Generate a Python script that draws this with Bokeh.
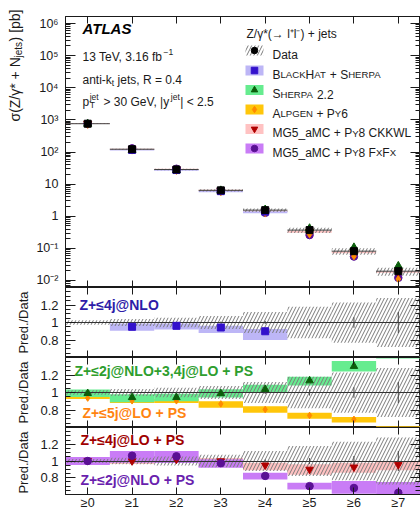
import math
import numpy as np
from bokeh.plotting import figure
from bokeh.layouts import column, row
from bokeh.models import (FixedTicker, LogAxis, LinearAxis, Label, Range1d,
                          CustomJSTickFormatter, Grid)
from bokeh.embed import file_html
from bokeh.resources import INLINE

# ---------------- data ----------------
bins = ["≥0", "≥1", "≥2", "≥3", "≥4", "≥5", "≥6", "≥7"]
data_xsec = [760.0, 122.0, 28.5, 6.4, 1.55, 0.37, 0.082, 0.0195]
data_unc = [0.025, 0.04, 0.055, 0.075, 0.12, 0.18, 0.23, 0.28]
data_stat = [0.002, 0.004, 0.006, 0.01, 0.018, 0.035, 0.06, 0.12]

NA = float("nan")
blackhat = [NA, 0.951, 0.962, 0.943, 0.900, NA, NA, NA]
blackhat_lo = [NA, 0.906, 0.920, 0.880, 0.800, NA, NA, NA]
blackhat_hi = [NA, 0.989, 0.990, 0.962, 0.925, NA, NA, NA]

sherpa = [0.990, 0.944, 0.944, 0.989, 1.037, 1.135, 1.300, 1.450]
sherpa_lo = [0.950, 0.890, 0.900, 0.944, 1.000, 1.080, 1.240, 1.390]
sherpa_hi = [1.035, 0.980, 0.985, 1.037, 1.090, 1.180, 1.360, 1.520]

alpgen = [0.936, 0.905, 0.905, 0.870, 0.806, 0.738, 0.693, 0.570]
alpgen_lo = [0.925, 0.880, 0.880, 0.825, 0.768, 0.700, 0.656, 0.540]
alpgen_hi = [0.950, 0.925, 0.925, 0.900, 0.843, 0.768, 0.720, 0.615]

ckkwl = [1.005, 1.000, 1.020, 1.000, 0.950, 0.900, 0.926, 0.955]
ckkwl_lo = [0.975, 0.965, 0.985, 0.960, 0.890, 0.835, 0.860, 0.890]
ckkwl_hi = [1.035, 1.040, 1.050, 1.037, 0.980, 0.960, 0.980, 1.000]

fxfx = [1.000, 1.063, 1.056, 0.974, 0.822, 0.700, 0.678, 0.620]
fxfx_lo = [0.952, 0.980, 0.975, 0.920, 0.780, 0.660, 0.610, 0.580]
fxfx_hi = [1.048, 1.120, 1.120, 1.020, 0.860, 0.740, 0.760, 0.750]

# ---------------- style ----------------
FONT = "Liberation Sans"
INK = "#1a1a1a"
HATCH = "#7a7a7a"
C_BH = ("#3311cc", "#bdb6f6")
C_SH = ("#0b5e0b", "#66ec8f")
C_AL = ("#ff8a00", "#ffc60a")
C_CK = ("#b00000", "#ffc2c2")
C_FX = ("#5a1094", "#c97cf6")

TW = 30            # width of the strip holding the rotated y titles
FL = 65            # absolute x of the frame's left edge
WID = 420
PW = WID - TW      # width of the plot figures
TOP_T, TOP_H = 16, 287
R_H = 70
BOT_EXTRA = 15
TOTAL_H = TOP_H + 3 * R_H + BOT_EXTRA
LOG_TOP, LOG_BOT = 6.218, -2.218
RLO, RHI = 0.6, 1.4

idx = np.arange(len(bins), dtype=float)
xr = Range1d(-0.5, len(bins) - 0.5)
xticker = FixedTicker(ticks=list(range(len(bins))), minor_ticks=[])
blank = CustomJSTickFormatter(code="return '';")

# Arial / Liberation Sans advance widths (per 1000 em)
AW = {' ': 278, '(': 333, ')': 333, '*': 389, '+': 584, ',': 278, '-': 333, '.': 278,
      '/': 278, ':': 278, '<': 584, '=': 584, '>': 584, '@': 1015, '[': 278, ']': 278,
      '_': 556, '|': 260, 'A': 667, 'B': 667, 'C': 722, 'D': 722, 'E': 667, 'F': 611,
      'G': 778, 'H': 722, 'I': 278, 'K': 667, 'L': 556, 'M': 833, 'N': 722, 'O': 778,
      'P': 667, 'R': 722, 'S': 667, 'T': 611, 'V': 667, 'W': 944, 'X': 667, 'Y': 667,
      'Z': 611, 'a': 556, 'b': 556, 'c': 500, 'd': 556, 'e': 556, 'f': 278, 'g': 556,
      'i': 222, 'j': 222, 'k': 500, 'l': 222, 'm': 833, 'n': 556, 'o': 556, 'p': 556,
      'r': 333, 's': 500, 't': 278, 'u': 556, 'y': 500, 'σ': 600, 'γ': 500, '→': 1000,
      '−': 584}


def tw(s, size):
    return sum(AW.get(c, 556) for c in s) * size / 1000.0


def make_fig(height, y_range, ylog, b_top, b_bottom):
    kw = dict(width=PW, height=height, x_range=xr, y_range=y_range,
              x_axis_location=None, y_axis_location=None,
              min_border_left=FL - TW, min_border_right=0,
              min_border_top=b_top, min_border_bottom=b_bottom,
              output_backend="svg", toolbar_location=None)
    if ylog:
        kw["y_axis_type"] = "log"
    f = figure(**kw)
    f.center = [r for r in f.center if not isinstance(r, Grid)]
    f.outline_line_color = INK
    f.outline_line_width = 1
    f.background_fill_color = "white"
    f.border_fill_color = "white"
    return f


def style_axis(a, maj_in, min_in, labels, size="12px", standoff=7):
    a.major_tick_in = maj_in
    a.major_tick_out = 0
    a.minor_tick_in = min_in
    a.minor_tick_out = 0
    a.axis_line_color = INK
    a.major_tick_line_color = INK
    a.minor_tick_line_color = INK
    if labels:
        a.major_label_text_font = FONT
        a.major_label_text_font_size = size
        a.major_label_text_color = INK
        a.major_label_standoff = standoff
    else:
        a.formatter = blank
        a.major_label_text_font_size = "0px"
        a.major_label_standoff = 0


def add_axes(f, yticker, yformatter, ylog, ylab_size, ymaj, ymin, xlabels):
    YA = LogAxis if ylog else LinearAxis
    left = YA(ticker=yticker, formatter=yformatter)
    style_axis(left, ymaj, ymin, True, ylab_size, 7)
    f.add_layout(left, "left")
    right = YA(ticker=yticker)
    style_axis(right, ymaj, ymin, False)
    f.add_layout(right, "right")
    top = LinearAxis(ticker=xticker)
    style_axis(top, 7, 0, False)
    f.add_layout(top, "above")
    if xlabels:
        bot = LinearAxis(ticker=xticker, formatter=CustomJSTickFormatter(
            args=dict(labels=bins), code="return labels[Math.round(tick)];"))
        style_axis(bot, 7, 0, True, "12.5px", 1)
    else:
        bot = LinearAxis(ticker=xticker)
        style_axis(bot, 7, 0, False)
    f.add_layout(bot, "below")


def put(f, fr, x_abs, y_abs, text, size, color=INK, style="normal",
        align="left", baseline="alphabetic", angle=0.0):
    f.add_layout(Label(x=x_abs - FL, y=fr[1] - y_abs, x_units="screen", y_units="screen",
                       text=text, text_font=FONT, text_font_size=f"{size}px",
                       text_color=color, text_font_style=style, text_align=align,
                       text_baseline=baseline, angle=angle))


def runs(f, fr, x_abs, base_abs, parts, color=INK):
    """parts: list of (text, size, dy) placed left to right on a common baseline."""
    x = x_abs
    for text, size, dy in parts:
        lead = len(text) - len(text.lstrip(" "))
        x += tw(" " * lead, size)
        body = text.strip(" ")
        if body:
            put(f, fr, x, base_abs + dy, body, size, color)
        x += tw(text.lstrip(" "), size)
    return x


# ---------------- top panel ----------------
p = make_fig(TOP_H, Range1d(10 ** LOG_BOT, 10 ** LOG_TOP), True, TOP_T, 0)
decades = [10.0 ** e for e in range(-2, 7)]
minors = [m * 10.0 ** e for e in range(-3, 7) for m in range(2, 10)]
log_fmt = CustomJSTickFormatter(code="""
const e = Math.round(Math.log10(tick));
if (e === 0) return "1";
if (e === 1) return "10";
const m = {"-": "\u207b", "0": "\u2070", "1": "\u00b9", "2": "\u00b2", "3": "\u00b3",
           "4": "\u2074", "5": "\u2075", "6": "\u2076", "7": "\u2077", "8": "\u2078", "9": "\u2079"};
return "10" + String(e).split("").map(c => m[c]).join("");
""")
add_axes(p, FixedTicker(ticks=decades, minor_ticks=minors), log_fmt, True, "12.5px", 10, 5, False)
top_fr = (TOP_T, TOP_H)

d = np.array(data_xsec)
du = np.array(data_unc)

bh_l, bh_h = np.array(blackhat_lo), np.array(blackhat_hi)
ck_l, ck_h = np.array(ckkwl_lo), np.array(ckkwl_hi)
p.quad(left=idx - 0.5, right=idx + 0.5, bottom=d * ck_l, top=d * ck_h,
       fill_color=C_CK[1], line_color=None)
p.quad(left=idx - 0.5, right=idx + 0.5, bottom=d * bh_l, top=d * bh_h,
       fill_color=C_BH[1], line_color=None)
p.quad(left=idx - 0.5, right=idx + 0.5, bottom=d * (1 - du), top=d * (1 + du),
       fill_color=None, line_color=None, hatch_pattern="/", hatch_color=HATCH,
       hatch_scale=7, hatch_weight=1)
p.segment(x0=idx - 0.5, x1=idx + 0.5, y0=d, y1=d, line_color="#444444", line_width=1)

preds = [
    (fxfx, C_FX, "circle", 7.5),
    (ckkwl, C_CK, "inverted_triangle", 8),
    (alpgen, C_AL, "diamond", 7),
    (sherpa, C_SH, "triangle", 8),
    (blackhat, C_BH, "square", 7),
]
for ratio, col, mk, sz in preds:
    p.scatter(idx, d * np.array(ratio), marker=mk, size=sz, fill_color=col[0], line_color=col[0])
p.scatter(idx, d, marker="square", size=7, fill_color="black", line_color="black")

# texts
put(p, top_fr, 82, 28, "ATLAS", 15, "black", "bold italic", baseline="middle")
xe = runs(p, top_fr, 82, 56.3, [("13 TeV, 3.16 fb", 12, 0)])
runs(p, top_fr, xe - 1.0, 56.3, [("−1", 8.5, -4.5)])
runs(p, top_fr, 82, 79.3, [("anti-k", 12, 0), ("t", 8.5, 3), (" jets, R = 0.4", 12, 0)])
x = runs(p, top_fr, 82, 101.3, [("p", 12, 0)])
put(p, top_fr, x + 0.5, 104.5, "T", 8.5)
put(p, top_fr, x + 0.5, 96.5, "jet", 8.5)
x = runs(p, top_fr, x + 0.5 + tw("jet", 8.5) + 1.5, 101.3, [(" > 30 GeV, |y", 12, 0)])
x = runs(p, top_fr, x + 0.5, 96.5, [("jet", 8.5, 0)])
runs(p, top_fr, x + 0.5, 101.3, [("| < 2.5", 12, 0)])


# legend
def xd(ax):
    return -0.5 + (ax - FL) / (WID - FL) * len(bins)


def yd(ay):
    return 10 ** (LOG_TOP - (ay - TOP_T) / (TOP_H - TOP_T) * (LOG_TOP - LOG_BOT))


put(p, top_fr, 246, 33.3, "Z/γ*(→ l⁺l⁻) + jets", 12)
leg_y = [50, 70, 89.5, 109, 128.5, 148]
B, S = 12, 9.6
leg_items = [
    ([("Data", B)], None, "circle", "black"),
    ([("B", B), ("LACK", S), ("H", B), ("AT", S), (" + ", B), ("S", B), ("HERPA", S)], C_BH[1], "square", C_BH[0]),
    ([("S", B), ("HERPA", S), (" 2.2", B)], C_SH[1], "triangle", C_SH[0]),
    ([("A", B), ("LPGEN", S), (" + ", B), ("P", B), ("Y", S), ("6", B)], C_AL[1], "diamond", C_AL[0]),
    ([("MG5_aMC + ", B), ("P", B), ("Y", S), ("8 CKKWL", B)], C_CK[1], "inverted_triangle", C_CK[0]),
    ([("MG5_aMC + ", B), ("P", B), ("Y", S), ("8 F", B), ("X", S), ("F", B), ("X", S)], C_FX[1], "circle", C_FX[0]),
]
for (parts, band, mk, mcol), ym in zip(leg_items, leg_y):
    if band is None:
        p.quad(left=[xd(245)], right=[xd(263)], bottom=[yd(ym + 5)], top=[yd(ym - 5)],
               fill_color=None, line_color=None, hatch_pattern="/", hatch_color=HATCH,
               hatch_scale=7, hatch_weight=1)
    else:
        p.quad(left=[xd(245)], right=[xd(263)], bottom=[yd(ym + 5)], top=[yd(ym - 5)],
               fill_color=band, line_color=None)
    p.scatter([xd(254)], [yd(ym)], marker=mk, size=6.5, fill_color=mcol, line_color=mcol)
    runs(p, top_fr, 272, ym + 4.3, [(t, s, 0) for t, s in parts])

# ---------------- ratio panels ----------------
rmaj = [0.8, 1.0, 1.2]
rmin = [round(RLO + 0.05 * k, 2) for k in range(int(round((RHI - RLO) / 0.05)) + 1)]
rmin = [v for v in rmin if v not in rmaj]
rfmt = CustomJSTickFormatter(code="return Math.abs(tick - 1) < 1e-6 ? '1' : tick.toFixed(1);")


def ratio_panel(models, texts, last):
    h = R_H + (BOT_EXTRA if last else 0)
    f = make_fig(h, Range1d(RLO, RHI), False, 0, BOT_EXTRA if last else 0)
    add_axes(f, FixedTicker(ticks=rmaj, minor_ticks=rmin), rfmt, False, "13px", 10, 5, last)
    for r, lo, hi, col, mk, sz in models:
        f.quad(left=idx - 0.5, right=idx + 0.5, bottom=np.array(lo), top=np.array(hi),
               fill_color=col[1], line_color=None)
    u = np.array(data_unc)
    f.quad(left=idx - 0.5, right=idx + 0.5, bottom=1 - u, top=1 + u, fill_color=None,
           line_color=None, hatch_pattern="/", hatch_color=HATCH, hatch_scale=7, hatch_weight=1)
    f.hspan(y=[1.0], line_color="#333333", line_width=1)
    st = np.array(data_stat)
    f.segment(x0=idx, x1=idx, y0=1 - st, y1=1 + st, line_color="#444444", line_width=1)
    for r, lo, hi, col, mk, sz in models:
        f.scatter(idx, np.array(r), marker=mk, size=sz, fill_color=col[0], line_color=col[0])
    fr = (0, R_H)
    for text, color, xa, ya in texts:
        put(f, fr, xa, ya, text, 14, color, "bold", baseline="middle")
    return f


r1 = ratio_panel([(blackhat, blackhat_lo, blackhat_hi, C_BH, "square", 7)],
                 [("Z+≤4j@NLO", "#2e1ca8", 79, 17)], False)
r2 = ratio_panel([(alpgen, alpgen_lo, alpgen_hi, C_AL, "diamond", 6.5),
                  (sherpa, sherpa_lo, sherpa_hi, C_SH, "triangle", 7.5)],
                 [("Z+≤2j@NLO+3,4j@LO + PS", "#2e9e2e", 74, 13),
                  ("Z+≤5j@LO + PS", "#ff8410", 82, 55)], False)
r3 = ratio_panel([(ckkwl, ckkwl_lo, ckkwl_hi, C_CK, "inverted_triangle", 7.5),
                  (fxfx, fxfx_lo, fxfx_hi, C_FX, "circle", 7.5)],
                 [("Z+≤4j@LO + PS", "#a00000", 80, 15),
                  ("Z+≤2j@NLO + PS", "#6a1fae", 80, 55)], True)

# ---------------- strip with the rotated y-axis titles ----------------
t = figure(width=TW, height=TOTAL_H, x_range=Range1d(0, TW), y_range=Range1d(0, TOTAL_H),
           x_axis_location=None, y_axis_location=None, min_border=0,
           output_backend="svg", toolbar_location=None)
t.center = [r for r in t.center if not isinstance(r, Grid)]
t.outline_line_color = None
t.background_fill_color = "white"
t.border_fill_color = "white"


def tput(x_abs, y_abs, text, size):
    t.add_layout(Label(x=x_abs, y=TOTAL_H - y_abs, text=text, text_font=FONT,
                       text_font_size=f"{size}px", text_color=INK, text_align="left",
                       text_baseline="alphabetic", angle=math.pi / 2))


ya0 = 121.0
tput(14.5, ya0, "σ(Z/γ* + N", 14)
yb = ya0 - tw("σ(Z/γ* + N", 14)
tput(17.5, yb, "jets", 10)
yc = yb - tw("jets", 10) - 0.5
tput(14.5, yc, ") [pb]", 14)
half = tw("Pred./Data", 13) / 2
for k in range(3):
    tput(23, TOP_H + R_H * k + R_H / 2 + half, "Pred./Data", 13)

layout = row(t, column(p, r1, r2, r3, spacing=0), spacing=0)
open("out.html", "w").write(file_html(layout, INLINE))
